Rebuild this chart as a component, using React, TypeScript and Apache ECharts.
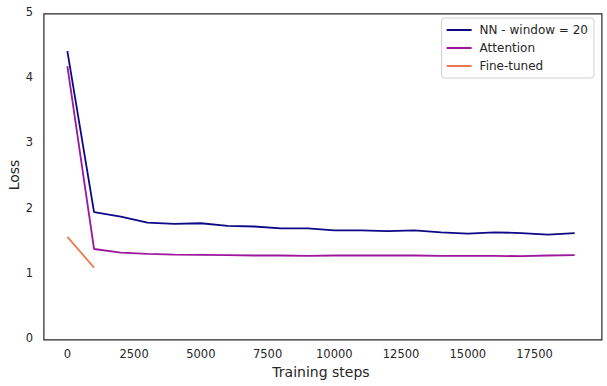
import React, { useEffect, useRef } from "react";
import * as echarts from "echarts";

const steps = [0, 1000, 2000, 3000, 4000, 5000, 6000, 7000, 8000, 9000, 10000, 11000, 12000, 13000, 14000, 15000, 16000, 17000, 18000, 19000];
const nnWindow20 = [4.4, 1.93, 1.86, 1.77, 1.75, 1.76, 1.72, 1.71, 1.68, 1.68, 1.65, 1.65, 1.64, 1.65, 1.62, 1.6, 1.62, 1.61, 1.585, 1.61];
const attention = [4.17, 1.365, 1.31, 1.29, 1.28, 1.275, 1.27, 1.265, 1.265, 1.26, 1.265, 1.265, 1.265, 1.265, 1.26, 1.26, 1.26, 1.255, 1.265, 1.27];
const fineTunedSteps = [0, 1000];
const fineTuned = [1.55, 1.08];
const xTicks = [0, 2500, 5000, 7500, 10000, 12500, 15000, 17500];
const seriesNames = ["NN - window = 20", "Attention", "Fine-tuned"];
const colors = ["#0d0887", "#9c179e", "#ed7953"];

const pair = (xs: number[], ys: number[]) => xs.map((x, i) => [x, ys[i]]);

export default function App() {
  const ref = useRef<HTMLDivElement>(null);
  useEffect(() => {
    if (!ref.current) return;
    const chart = echarts.init(ref.current, undefined, { renderer: "svg" });
    const font = "DejaVu Sans";
    const hidden = { show: false };
    const G = { left: 42, right: 7, top: 12, bottom: 48 };
    chart.setOption({
      animation: false,
      textStyle: { fontFamily: font },
      grid: { ...G, containLabel: false, outerBoundsMode: "none" },
      graphic: [
        {
          type: "rect",
          left: G.left - 0.6,
          top: G.top - 0.6,
          shape: { width: 607 - G.left - G.right, height: 386 - G.top - G.bottom },
          style: { fill: "none", stroke: "#262626", lineWidth: 1.2 },
          silent: true,
          z: 10,
        },
      ],
      legend: {
        data: seriesNames,
        orient: "vertical",
        right: 13,
        top: 18,
        align: "left",
        icon: "rect",
        itemWidth: 25,
        itemHeight: 2,
        itemGap: 6,
        padding: [6, 6, 6, 5],
        borderColor: "#d0d0d0",
        borderWidth: 1,
        borderRadius: 3,
        backgroundColor: "rgba(255,255,255,0.8)",
        textStyle: { fontFamily: font, fontSize: 12, color: "#262626", padding: [0, 0, 0, 3] },
      },
      xAxis: {
        type: "value",
        min: -950,
        max: 19950,
        name: "Training steps",
        nameLocation: "middle",
        nameGap: 27,
        nameMoveOverlap: false,
        nameTextStyle: { fontFamily: font, fontSize: 14, color: "#262626" },
        axisLine: hidden,
        axisTick: hidden,
        splitLine: hidden,
        axisLabel: { customValues: xTicks, formatter: (v: number) => String(v), fontFamily: font, fontSize: 11.5, color: "#262626", margin: 10 },
      },
      yAxis: {
        type: "value",
        min: 0,
        max: 5,
        interval: 1,
        name: "Loss",
        nameLocation: "middle",
        nameGap: 21,
        nameMoveOverlap: false,
        nameTextStyle: { fontFamily: font, fontSize: 14, color: "#262626" },
        axisLine: hidden,
        axisTick: hidden,
        splitLine: hidden,
        axisLabel: { fontFamily: font, fontSize: 11.5, color: "#262626", margin: 9 },
      },
      series: [
        { name: seriesNames[0], type: "line", data: pair(steps, nnWindow20), showSymbol: false, lineStyle: { color: colors[0], width: 1.8 }, itemStyle: { color: colors[0] } },
        { name: seriesNames[1], type: "line", data: pair(steps, attention), showSymbol: false, lineStyle: { color: colors[1], width: 1.8 }, itemStyle: { color: colors[1] } },
        { name: seriesNames[2], type: "line", data: pair(fineTunedSteps, fineTuned), showSymbol: false, lineStyle: { color: colors[2], width: 1.8 }, itemStyle: { color: colors[2] } },
      ],
    });
    return () => chart.dispose();
  }, []);
  return <div ref={ref} style={{ width: 607, height: 386, position: "absolute", left: 0, top: 0 }} />;
}
